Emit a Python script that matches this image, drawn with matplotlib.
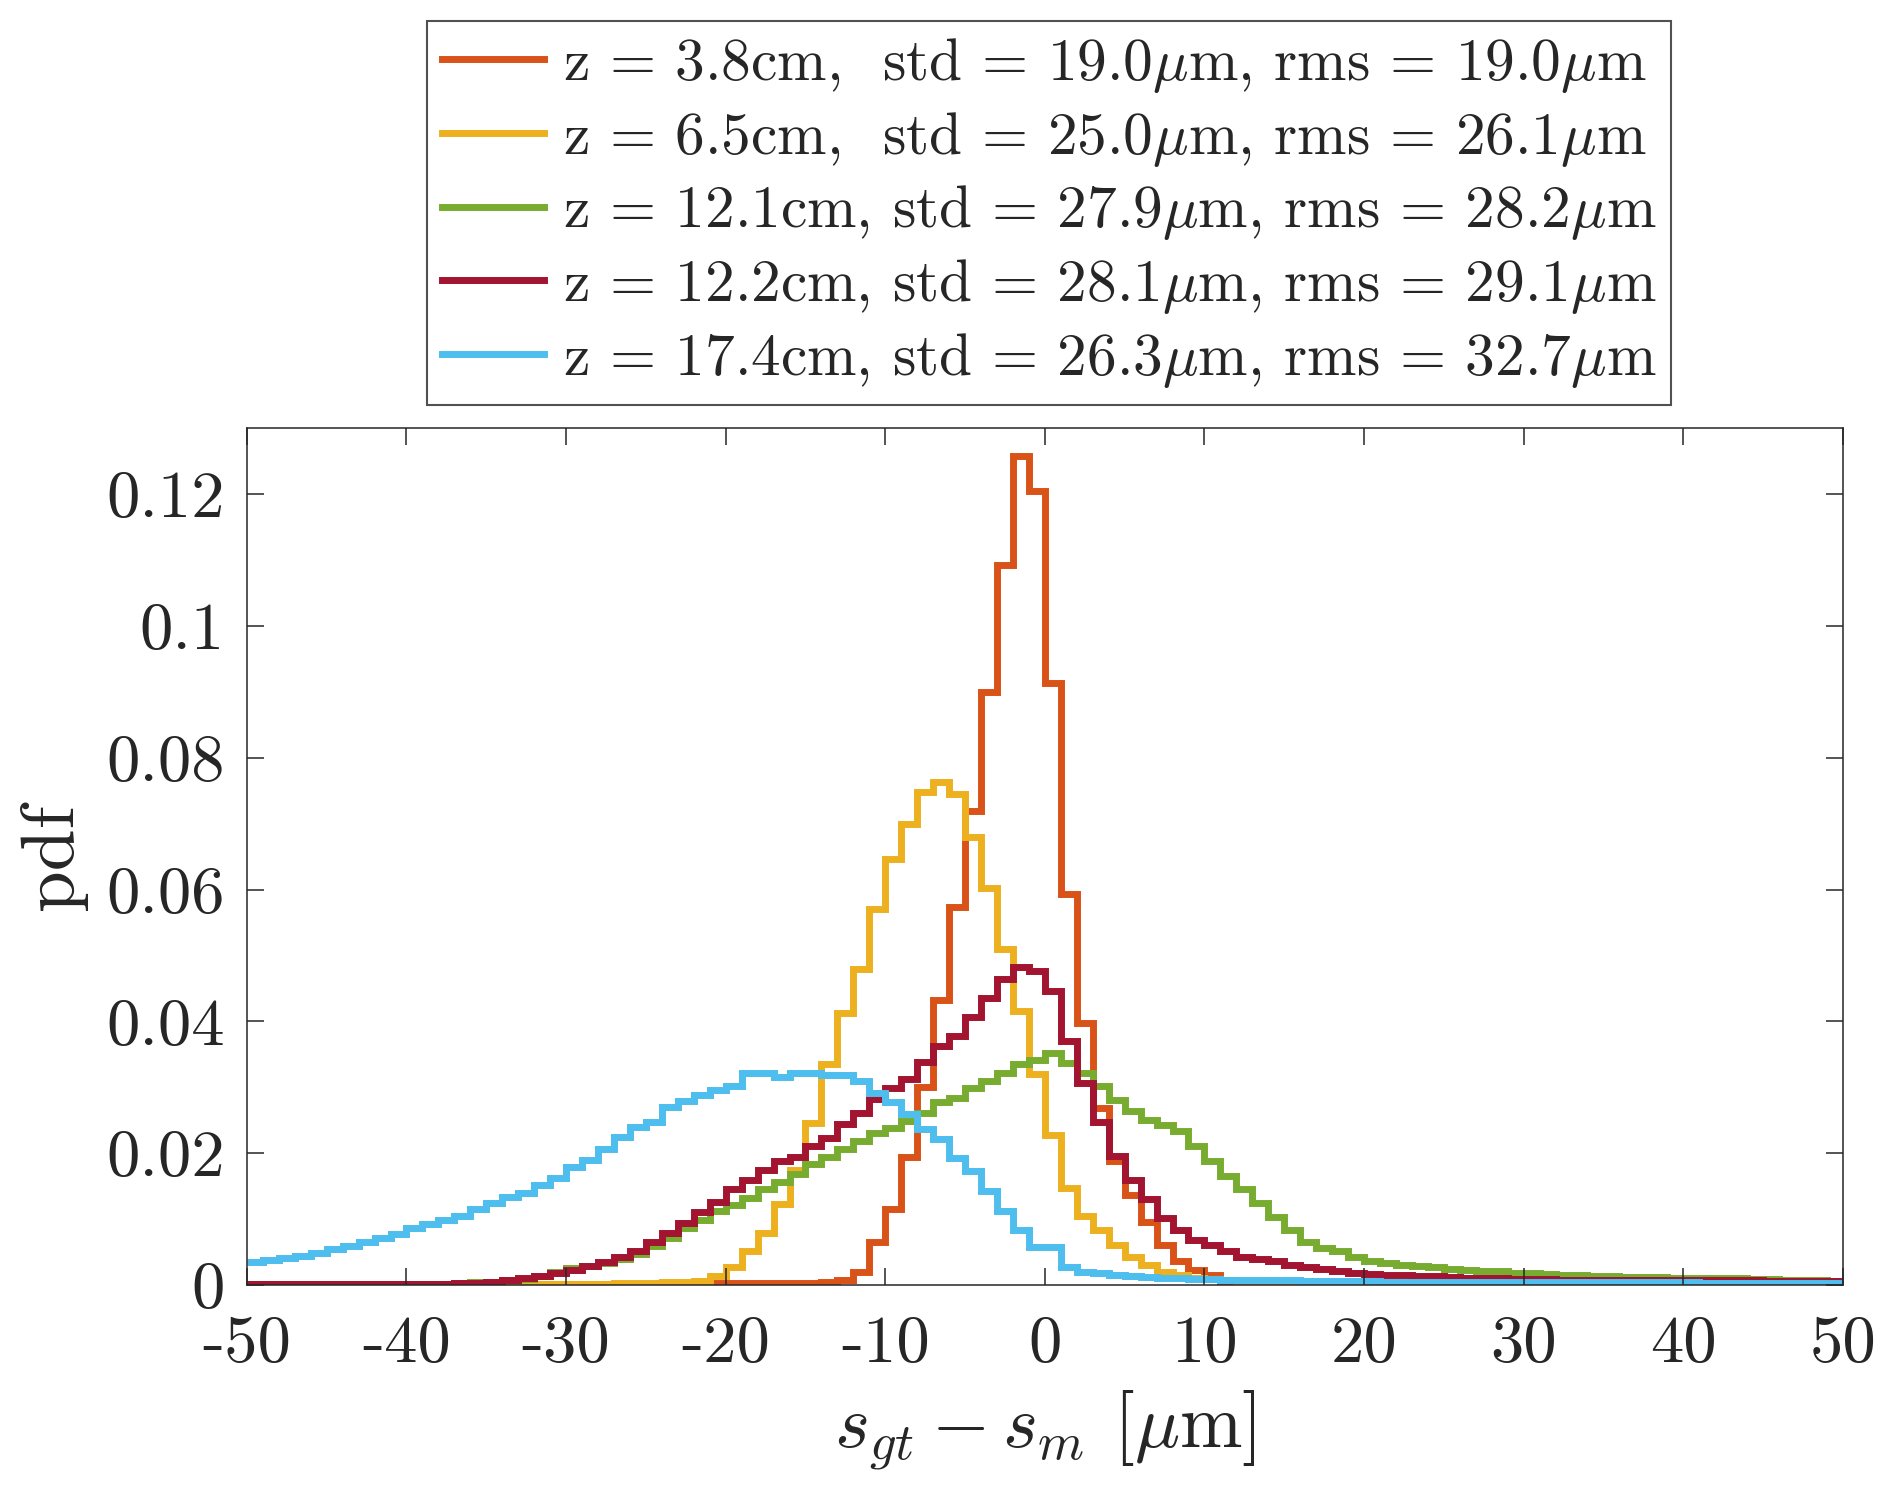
import numpy as np
import matplotlib
matplotlib.use("Agg")
import matplotlib.pyplot as plt

plt.rcParams['font.family'] = ['cmr10', 'DejaVu Serif']
plt.rcParams['mathtext.fontset'] = 'cm'
plt.rcParams['axes.unicode_minus'] = False

# bin edges (1 um bins from -50 to 50)
edges = np.arange(-50, 51, 1)

# pdf values per bin, bins -50 .. 49
pdf_z38 = [
    0.0001, 0.0001, 0.0001, 0.0001, 0.0001, 0.0001, 0.0001, 0.0001, 0.0001, 0.0001,
    0.0001, 0.0001, 0.0001, 0.0001, 0.0001, 0.0001, 0.0001, 0.0001, 0.0001, 0.0001,
    0.0002, 0.0002, 0.0002, 0.0002, 0.0002, 0.0002, 0.0002, 0.0002, 0.0002, 0.0003,
    0.0003, 0.0003, 0.0003, 0.0003, 0.0003, 0.0003, 0.0004, 0.0008, 0.0020, 0.0065,
    0.0115, 0.0194, 0.0300, 0.0432, 0.0574, 0.0719, 0.0900, 0.1092, 0.1257, 0.1204,
    0.0913, 0.0593, 0.0398, 0.0269, 0.0188, 0.0137, 0.0096, 0.0061, 0.0036, 0.0023,
    0.0016, 0.0004, 0.0002, 0.0002, 0.0002, 0.0002, 0.0002, 0.0002, 0.0002, 0.0002,
    0.0001, 0.0001, 0.0001, 0.0001, 0.0001, 0.0001, 0.0001, 0.0001, 0.0001, 0.0001,
    0.0001, 0.0001, 0.0001, 0.0001, 0.0001, 0.0001, 0.0001, 0.0001, 0.0001, 0.0001,
    0.0001, 0.0001, 0.0001, 0.0001, 0.0001, 0.0001, 0.0001, 0.0001, 0.0001, 0.0001,
]
pdf_z65 = [
    0.0000, 0.0000, 0.0000, 0.0000, 0.0000, 0.0001, 0.0001, 0.0001, 0.0001, 0.0001,
    0.0001, 0.0001, 0.0001, 0.0001, 0.0001, 0.0001, 0.0001, 0.0001, 0.0002, 0.0002,
    0.0002, 0.0002, 0.0002, 0.0003, 0.0003, 0.0003, 0.0004, 0.0004, 0.0006, 0.0013,
    0.0028, 0.0052, 0.0079, 0.0123, 0.0175, 0.0246, 0.0335, 0.0413, 0.0479, 0.0570,
    0.0646, 0.0700, 0.0748, 0.0763, 0.0745, 0.0679, 0.0603, 0.0510, 0.0416, 0.0320,
    0.0228, 0.0147, 0.0104, 0.0084, 0.0061, 0.0043, 0.0030, 0.0020, 0.0016, 0.0011,
    0.0009, 0.0007, 0.0006, 0.0005, 0.0005, 0.0004, 0.0004, 0.0004, 0.0004, 0.0004,
    0.0004, 0.0003, 0.0003, 0.0003, 0.0003, 0.0003, 0.0003, 0.0003, 0.0003, 0.0003,
    0.0003, 0.0002, 0.0002, 0.0002, 0.0002, 0.0002, 0.0002, 0.0002, 0.0002, 0.0002,
    0.0002, 0.0002, 0.0002, 0.0002, 0.0002, 0.0002, 0.0002, 0.0002, 0.0002, 0.0002,
]
pdf_z121 = [
    0.0001, 0.0001, 0.0001, 0.0001, 0.0001, 0.0001, 0.0001, 0.0001, 0.0001, 0.0001,
    0.0001, 0.0002, 0.0002, 0.0003, 0.0004, 0.0005, 0.0007, 0.0009, 0.0014, 0.0020,
    0.0026, 0.0029, 0.0033, 0.0039, 0.0047, 0.0059, 0.0071, 0.0087, 0.0099, 0.0112,
    0.0122, 0.0132, 0.0145, 0.0157, 0.0168, 0.0183, 0.0195, 0.0206, 0.0218, 0.0231,
    0.0239, 0.0249, 0.0261, 0.0277, 0.0284, 0.0299, 0.0310, 0.0322, 0.0335, 0.0342,
    0.0352, 0.0337, 0.0321, 0.0302, 0.0280, 0.0264, 0.0251, 0.0243, 0.0233, 0.0211,
    0.0188, 0.0165, 0.0145, 0.0124, 0.0103, 0.0084, 0.0066, 0.0056, 0.0051, 0.0043,
    0.0037, 0.0034, 0.0031, 0.0029, 0.0027, 0.0025, 0.0023, 0.0022, 0.0021, 0.0019,
    0.0018, 0.0017, 0.0015, 0.0015, 0.0014, 0.0013, 0.0012, 0.0012, 0.0012, 0.0011,
    0.0011, 0.0010, 0.0010, 0.0010, 0.0009, 0.0009, 0.0008, 0.0008, 0.0007, 0.0006,
]
pdf_z122 = [
    0.0001, 0.0001, 0.0001, 0.0001, 0.0001, 0.0001, 0.0001, 0.0001, 0.0002, 0.0002,
    0.0002, 0.0002, 0.0002, 0.0003, 0.0003, 0.0004, 0.0008, 0.0010, 0.0014, 0.0019,
    0.0023, 0.0029, 0.0035, 0.0042, 0.0052, 0.0065, 0.0079, 0.0094, 0.0111, 0.0126,
    0.0145, 0.0160, 0.0175, 0.0188, 0.0195, 0.0211, 0.0223, 0.0244, 0.0261, 0.0282,
    0.0299, 0.0312, 0.0338, 0.0363, 0.0378, 0.0407, 0.0435, 0.0464, 0.0483, 0.0477,
    0.0446, 0.0370, 0.0307, 0.0248, 0.0196, 0.0159, 0.0130, 0.0101, 0.0084, 0.0069,
    0.0061, 0.0051, 0.0043, 0.0039, 0.0036, 0.0030, 0.0028, 0.0024, 0.0022, 0.0019,
    0.0017, 0.0016, 0.0015, 0.0014, 0.0013, 0.0012, 0.0011, 0.0011, 0.0010, 0.0009,
    0.0009, 0.0009, 0.0008, 0.0008, 0.0008, 0.0008, 0.0008, 0.0008, 0.0008, 0.0008,
    0.0007, 0.0007, 0.0007, 0.0007, 0.0007, 0.0006, 0.0006, 0.0006, 0.0006, 0.0006,
]
pdf_z174 = [
    0.0035, 0.0038, 0.0041, 0.0044, 0.0048, 0.0054, 0.0059, 0.0066, 0.0071, 0.0077,
    0.0087, 0.0092, 0.0099, 0.0105, 0.0115, 0.0125, 0.0133, 0.0140, 0.0152, 0.0163,
    0.0179, 0.0189, 0.0207, 0.0224, 0.0240, 0.0248, 0.0270, 0.0279, 0.0288, 0.0296,
    0.0302, 0.0321, 0.0321, 0.0315, 0.0322, 0.0322, 0.0318, 0.0318, 0.0310, 0.0292,
    0.0277, 0.0259, 0.0236, 0.0221, 0.0193, 0.0173, 0.0142, 0.0112, 0.0084, 0.0058,
    0.0058, 0.0028, 0.0020, 0.0018, 0.0015, 0.0013, 0.0012, 0.0011, 0.0010, 0.0009,
    0.0009, 0.0008, 0.0008, 0.0007, 0.0007, 0.0007, 0.0006, 0.0006, 0.0006, 0.0006,
    0.0006, 0.0005, 0.0005, 0.0005, 0.0005, 0.0005, 0.0004, 0.0004, 0.0004, 0.0004,
    0.0004, 0.0004, 0.0004, 0.0004, 0.0004, 0.0004, 0.0004, 0.0004, 0.0004, 0.0004,
    0.0004, 0.0003, 0.0003, 0.0003, 0.0003, 0.0003, 0.0003, 0.0003, 0.0003, 0.0003,
]

series = [pdf_z38, pdf_z65, pdf_z121, pdf_z122, pdf_z174]
labels = [
    r"z = 3.8cm,  std = 19.0$\mu$m, rms = 19.0$\mu$m",
    r"z = 6.5cm,  std = 25.0$\mu$m, rms = 26.1$\mu$m",
    r"z = 12.1cm, std = 27.9$\mu$m, rms = 28.2$\mu$m",
    r"z = 12.2cm, std = 28.1$\mu$m, rms = 29.1$\mu$m",
    r"z = 17.4cm, std = 26.3$\mu$m, rms = 32.7$\mu$m",
]
colors = ['#D95319', '#EDB120', '#77AC30', '#A2142F', '#4DBEEE']

xticks = [-50, -40, -30, -20, -10, 0, 10, 20, 30, 40, 50]
xticklabels = ['-50', '-40', '-30', '-20', '-10', '0', '10', '20', '30', '40', '50']
yticks = [0, 0.02, 0.04, 0.06, 0.08, 0.1, 0.12]
yticklabels = ['0', '0.02', '0.04', '0.06', '0.08', '0.1', '0.12']

txt = '#262626'

fig = plt.figure(figsize=(18.92, 14.92), dpi=100)
ax = fig.add_axes([0.1305, 0.1387, 0.8435, 0.5744])

for vals, lab, c in zip(series, labels, colors):
    ax.stairs(vals, edges, color=c, linewidth=5, label=lab, baseline=None)

ax.set_xlim(-50, 50)
ax.set_ylim(0, 0.13)
ax.set_xticks(xticks)
ax.set_xticklabels(xticklabels)
ax.set_yticks(yticks)
ax.set_yticklabels(yticklabels)
ax.tick_params(direction='in', length=12, width=1.1, top=True, right=True,
               labelsize=48, colors=txt, pad=16)
ax.tick_params(axis='x', pad=22)
for s in ax.spines.values():
    s.set_color(txt)
    s.set_linewidth(1.1)

ax.set_xlabel(r"$s_{gt} - s_m$ [$\mu$m]", fontsize=54, color=txt, labelpad=10)
ax.set_ylabel("pdf", fontsize=54, color=txt, labelpad=14)

leg = fig.legend(loc='upper center', bbox_to_anchor=(0.5545, 0.986), fontsize=42.7,
                 frameon=True, fancybox=False, edgecolor=txt, handlelength=1.72,
                 handletextpad=0.33, borderpad=0.25, labelspacing=0.25, borderaxespad=0)
leg.get_frame().set_linewidth(1.5)
for t in leg.get_texts():
    t.set_color(txt)

fig.savefig("out.png", dpi=100)
